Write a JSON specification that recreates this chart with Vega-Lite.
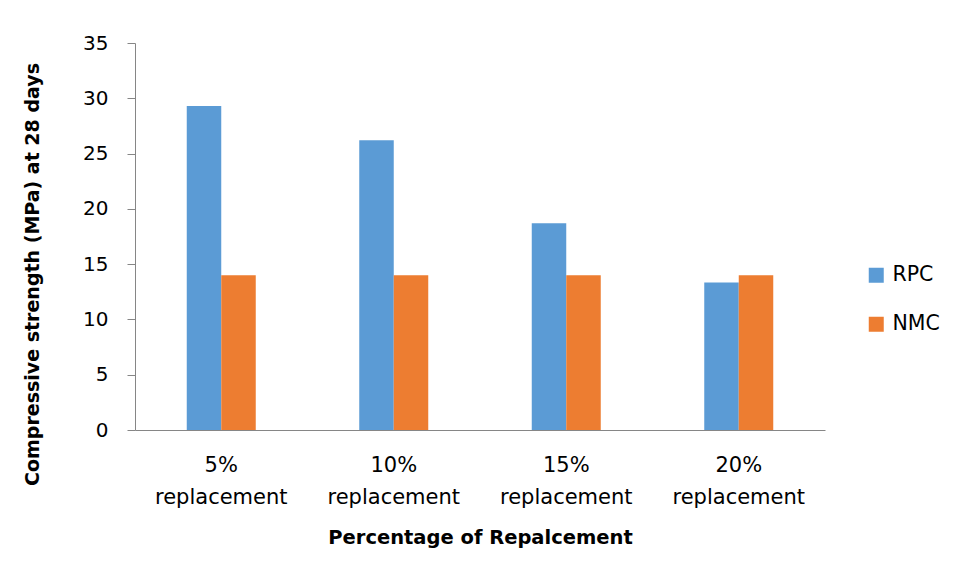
{
  "$schema": "https://vega.github.io/schema/vega-lite/v6.json",
  "autosize": "none",
  "width": 690,
  "height": 387,
  "padding": {"left": 135, "top": 43, "right": 129, "bottom": 147},
  "background": "white",
  "data": {
    "values": [
      {"cat": "5% replacement", "series": "RPC", "value": 29.3},
      {"cat": "5% replacement", "series": "NMC", "value": 14.0},
      {"cat": "10% replacement", "series": "RPC", "value": 26.2},
      {"cat": "10% replacement", "series": "NMC", "value": 14.0},
      {"cat": "15% replacement", "series": "RPC", "value": 18.7},
      {"cat": "15% replacement", "series": "NMC", "value": 14.0},
      {"cat": "20% replacement", "series": "RPC", "value": 13.35},
      {"cat": "20% replacement", "series": "NMC", "value": 14.0}
    ]
  },
  "mark": {"type": "bar"},
  "encoding": {
    "x": {
      "field": "cat",
      "type": "nominal",
      "sort": ["5% replacement", "10% replacement", "15% replacement", "20% replacement"],
      "scale": {"paddingInner": 0.6, "paddingOuter": 0.3},
      "axis": {
        "title": "Percentage of Repalcement",
        "labelAngle": 0,
        "labelExpr": "split(datum.label, ' ')",
        "labelFontSize": 21,
        "labelLineHeight": 32,
        "labelPadding": 24,
        "ticks": false,
        "domainColor": "#868686",
        "domainWidth": 1,
        "titleFontSize": 19.5,
        "titlePadding": 21
      }
    },
    "xOffset": {"field": "series", "type": "nominal", "sort": ["RPC", "NMC"]},
    "y": {
      "field": "value",
      "type": "quantitative",
      "scale": {"domain": [0, 35], "nice": false},
      "axis": {
        "title": "Compressive strength (MPa) at 28 days",
        "values": [0, 5, 10, 15, 20, 25, 30, 35],
        "grid": false,
        "tickSize": 8,
        "tickColor": "#868686",
        "domainColor": "#868686",
        "labelFontSize": 20,
        "labelPadding": 19,
        "titlePadding": 40,
        "titleY": 231
      }
    },
    "color": {
      "field": "series",
      "type": "nominal",
      "sort": ["RPC", "NMC"],
      "scale": {"domain": ["RPC", "NMC"], "range": ["#5B9BD5", "#ED7D31"]},
      "legend": {
        "title": null,
        "orient": "none",
        "legendX": 731,
        "legendY": 222,
        "symbolType": "square",
        "symbolSize": 225,
        "symbolStrokeWidth": 0,
        "labelOffset": 6,
        "labelFontSize": 20.5,
        "rowPadding": 28
      }
    }
  },
  "config": {
    "view": {"stroke": null},
    "font": "DejaVu Sans",
    "axis": {
      "labelFont": "DejaVu Sans",
      "labelFontSize": 19.5,
      "labelColor": "#000000",
      "titleFont": "DejaVu Sans",
      "titleFontSize": 19,
      "titleFontWeight": "bold",
      "titleColor": "#000000"
    },
    "legend": {
      "labelFont": "DejaVu Sans",
      "labelFontSize": 19.5,
      "labelColor": "#000000"
    }
  }
}
